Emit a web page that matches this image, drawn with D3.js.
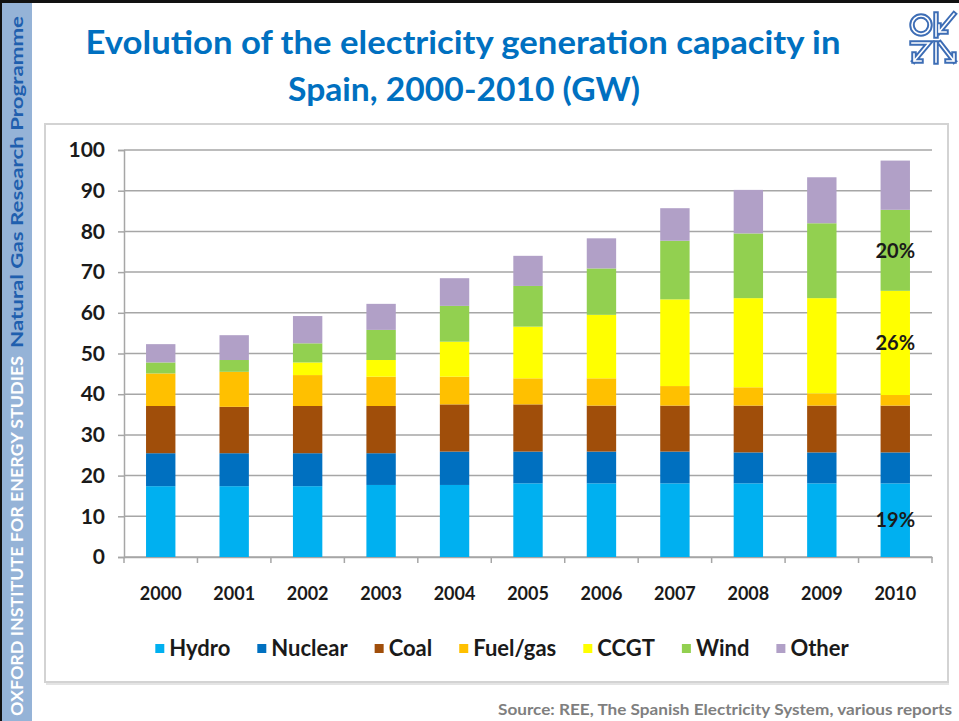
<!DOCTYPE html>
<html>
<head>
<meta charset="utf-8">
<script src="https://cdn.jsdelivr.net/npm/d3@7"></script>
<style>
  body { margin: 0; background: #fff; }
  svg { display: block; }
  text { font-family: Lato, "Open Sans", sans-serif; font-weight: bold; }
</style>
</head>
<body>
<svg id="chart"></svg>
<script>
// capacity in GW
var years = ["2000","2001","2002","2003","2004","2005","2006","2007","2008","2009","2010"];
var hydro   = [17.4, 17.4, 17.4, 17.7, 17.7, 18.1, 18.1, 18.1, 18.1, 18.1, 18.1];
var nuclear = [ 8.1,  8.1,  8.1,  7.8,  8.2,  7.8,  7.8,  7.8,  7.6,  7.6,  7.6];
var coal    = [11.6, 11.4, 11.6, 11.6, 11.6, 11.6, 11.3, 11.3, 11.5, 11.5, 11.5];
var fuelGas = [ 8.0,  8.6,  7.6,  7.2,  6.8,  6.4,  6.7,  4.8,  4.5,  3.0,  2.6];
var ccgt    = [ 0.0,  0.0,  3.1,  4.1,  8.6, 12.7, 15.6, 21.3, 21.9, 23.4, 25.6];
var wind    = [ 2.7,  2.9,  4.7,  7.4,  8.8, 10.0, 11.4, 14.4, 15.9, 18.4, 19.9];
var other   = [ 4.5,  6.1,  6.7,  6.4,  6.8,  7.4,  7.4,  8.0, 10.7, 11.3, 12.1];

var seriesNames = ["Hydro","Nuclear","Coal","Fuel/gas","CCGT","Wind","Other"];
var seriesValues = [hydro, nuclear, coal, fuelGas, ccgt, wind, other];
var yTicks = [0,10,20,30,40,50,60,70,80,90,100];

// share labels on the 2010 bar
var notes = [
  {year: "2010", series: "Wind",  label: "20%"},
  {year: "2010", series: "CCGT",  label: "26%"},
  {year: "2010", series: "Hydro", label: "19%"}
];

var screen = { width: 959, height: 721 };
var plot = { left: 124, right: 932, top: 150, bottom: 557 };

var colors = d3.scaleOrdinal()
  .domain(seriesNames)
  .range(["#00b0f0","#0070c0","#a04e0a","#ffc000","#ffff00","#92d050","#b1a0c7"]);

// rows for d3.stack
var table = years.map(function(y, i) {
  var row = { year: y };
  seriesNames.forEach(function(s, j) { row[s] = seriesValues[j][i]; });
  return row;
});
var series = d3.stack().keys(seriesNames)(table);

var svg = d3.select("#chart")
  .attr("width", screen.width)
  .attr("height", screen.height);

// slide border + side band
svg.append("rect").attr("x", 0).attr("y", 0).attr("width", screen.width).attr("height", 3).attr("fill", "#111");
svg.append("rect").attr("x", 0).attr("y", 0).attr("width", 2).attr("height", screen.height).attr("fill", "#111");
svg.append("rect").attr("x", 2).attr("y", 3).attr("width", 30).attr("height", screen.height - 3).attr("fill", "#95b3d7");

svg.append("text")
  .attr("transform", "translate(23,716) rotate(-90)")
  .attr("fill", "#fff")
  .attr("textLength", 360).attr("lengthAdjust", "spacingAndGlyphs")
  .style("font-size", "17px")
  .text("OXFORD INSTITUTE FOR ENERGY STUDIES");
svg.append("text")
  .attr("transform", "translate(23,348) rotate(-90)")
  .attr("fill", "#1f5fae")
  .attr("textLength", 332).attr("lengthAdjust", "spacingAndGlyphs")
  .style("font-size", "17px")
  .text("Natural Gas Research Programme");

// title
var title = svg.append("text")
  .attr("text-anchor", "middle")
  .attr("fill", "#0070c0")
  .style("font-size", "33px");
title.append("tspan").attr("x", 463).attr("y", 54)
  .attr("textLength", 755).attr("lengthAdjust", "spacingAndGlyphs")
  .text("Evolution of the electricity generation capacity in");
title.append("tspan").attr("x", 464).attr("y", 101)
  .attr("textLength", 352).attr("lengthAdjust", "spacingAndGlyphs")
  .text("Spain, 2000-2010 (GW)");

// logo (rough)
var logo = svg.append("g").attr("fill", "none").attr("stroke-linecap", "square")
  .attr("transform", "translate(-1,0)");
var logoPaths = [
  "M937,14 L937,36 M955,14 L940,32 M940,32 L940,25 M940,32 L947,32",
  "M913,43 L930,43 L915,61 M915,61 L915,54 M915,61 L922,61",
  "M937,43 L937,62 M941,43 L955,61 M955,61 L955,54 M955,61 L948,61"
];
[{w: 5.5, c: "#3d6db5"}, {w: 1.6, c: "#fff"}].forEach(function(st) {
  logo.append("circle").attr("cx", 922).attr("cy", 25).attr("r", 9)
    .attr("stroke", st.c).attr("stroke-width", st.w);
  logo.selectAll(null).data(logoPaths).enter().append("path")
    .attr("d", function(d) { return d; })
    .attr("stroke", st.c).attr("stroke-width", st.w);
});

// chart frame
svg.append("rect")
  .attr("x", 45).attr("y", 124).attr("width", 903).attr("height", 558)
  .attr("fill", "#fff").attr("stroke", "#d3d3d3").attr("stroke-width", 2);
svg.append("line").attr("x1", 46).attr("x2", 949).attr("y1", 684).attr("y2", 684)
  .attr("stroke", "#e4e4e4").attr("stroke-width", 2);

// scales
var xScale = d3.scaleBand()
  .domain(years)
  .range([plot.left, plot.right])
  .paddingInner(0.6)
  .paddingOuter(0.3);

var yScale = d3.scaleLinear()
  .domain([0, 100])
  .range([plot.bottom, plot.top]);

// gridlines
svg.append("g")
  .selectAll("line")
  .data(yTicks)
  .enter()
  .append("line")
  .attr("x1", plot.left).attr("x2", plot.right)
  .attr("y1", function(d) { return yScale(d); })
  .attr("y2", function(d) { return yScale(d); })
  .attr("stroke", "#a6a6a6").attr("stroke-width", 1.5);

// y axis
var yAxis = d3.axisLeft(yScale).tickValues(yTicks).tickSize(6).tickPadding(13);
var yAxisGraphic = svg.append("g")
  .attr("transform", "translate(" + plot.left + ",0)")
  .call(yAxis);
yAxisGraphic.select(".domain").attr("stroke", "#a6a6a6").attr("stroke-width", 1.5);
yAxisGraphic.selectAll(".tick line").attr("stroke", "#a6a6a6").attr("stroke-width", 1.5);
yAxisGraphic.selectAll("text").attr("fill", "#1a1a1a").style("font-size", "21px").style("font-family", null);

// x axis, labels centred, ticks at category borders
var xAxis = d3.axisBottom(xScale).tickSize(0).tickPadding(30);
var xAxisGraphic = svg.append("g")
  .attr("transform", "translate(0," + plot.bottom + ")")
  .call(xAxis);
xAxisGraphic.select(".domain").attr("stroke", "#a6a6a6").attr("stroke-width", 1.5);
xAxisGraphic.selectAll("text").attr("fill", "#1a1a1a").style("font-size", "18px").style("font-family", null);

svg.append("g")
  .selectAll("line")
  .data(d3.range(years.length + 1))
  .enter()
  .append("line")
  .attr("x1", function(i) { return plot.left + i * xScale.step(); })
  .attr("x2", function(i) { return plot.left + i * xScale.step(); })
  .attr("y1", plot.bottom).attr("y2", plot.bottom + 6)
  .attr("stroke", "#a6a6a6").attr("stroke-width", 1.5);

// stacked bars
var groups = svg.append("g")
  .selectAll("g")
  .data(series)
  .enter()
  .append("g")
  .attr("fill", function(d) { return colors(d.key); });

groups.selectAll("rect")
  .data(function(d) { return d; })
  .enter()
  .append("rect")
  .attr("x", function(d) { return xScale(d.data.year); })
  .attr("width", xScale.bandwidth())
  .attr("y", function(d) { return yScale(d[1]); })
  .attr("height", function(d) { return yScale(d[0]) - yScale(d[1]); });

// share labels
svg.append("g")
  .selectAll("text")
  .data(notes)
  .enter()
  .append("text")
  .attr("text-anchor", "middle")
  .attr("dy", "0.36em")
  .attr("fill", "#1a1a1a")
  .style("font-size", "20px")
  .attr("x", function(d) { return xScale(d.year) + xScale.bandwidth() / 2; })
  .attr("y", function(d) {
    var s = series[seriesNames.indexOf(d.series)][years.indexOf(d.year)];
    return yScale((s[0] + s[1]) / 2);
  })
  .text(function(d) { return d.label; });

// legend
var legend = svg.append("g").attr("transform", "translate(0,648)");
var items = legend.selectAll("g")
  .data(seriesNames)
  .enter()
  .append("g");
items.append("rect")
  .attr("y", -4).attr("width", 9).attr("height", 9)
  .attr("fill", function(d) { return colors(d); });
items.append("text")
  .attr("x", 14).attr("dy", "0.36em")
  .attr("fill", "#1a1a1a")
  .style("font-size", "22px")
  .text(function(d) { return d; });

var pos = 0, gap = 27;
var widths = [];
items.each(function(d) {
  var w = 14 + d3.select(this).select("text").node().getComputedTextLength();
  widths.push(pos);
  pos += w + gap;
});
var legendWidth = pos - gap;
var legendStart = 502 - legendWidth / 2;
items.attr("transform", function(d, i) { return "translate(" + (legendStart + widths[i]) + ",0)"; });

// source
svg.append("text")
  .attr("x", 952).attr("y", 715)
  .attr("text-anchor", "end")
  .attr("fill", "#7f7f7f")
  .attr("textLength", 454).attr("lengthAdjust", "spacingAndGlyphs")
  .style("font-size", "16px")
  .text("Source: REE, The Spanish Electricity System, various reports");
</script>
</body>
</html>
